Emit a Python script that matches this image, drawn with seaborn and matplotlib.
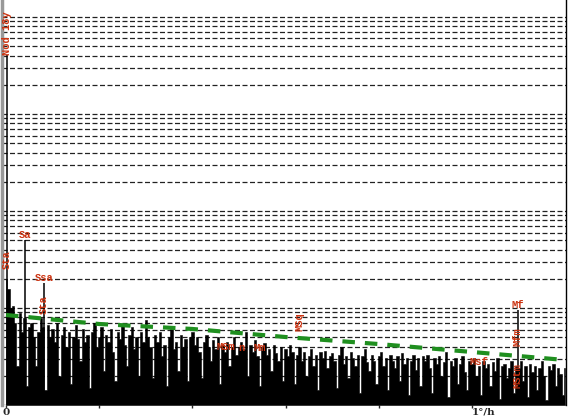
import matplotlib
matplotlib.use("Agg")
import matplotlib.pyplot as plt
import matplotlib.ticker as mticker
import seaborn as sns
import numpy as np

# Espectro de periodo largo (log10 de la potencia), paso de 0.005 grados/hora
espectro_log = [
    -2.70, -2.80, -3.00, -2.98, -3.15, -3.60, -3.05, -3.25, -3.10, -3.80,
    -3.20, -3.15, -3.30, -3.60, -3.25, -3.10, -3.20, -3.85, -3.18, -3.30,
    -3.22, -3.35, -3.15, -3.70, -3.28, -3.20, -3.40, -3.25, -3.78, -3.30,
    -3.18, -3.32, -3.55, -3.22, -3.35, -3.28, -3.82, -3.25, -3.15, -3.40,
    -3.30, -3.20, -3.65, -3.28, -3.35, -3.22, -3.45, -3.75, -3.25, -3.32,
    -3.18, -3.38, -3.60, -3.28, -3.20, -3.42, -3.30, -3.70, -3.25, -3.35,
    -3.12, -3.30, -3.40, -3.72, -3.28, -3.35, -3.25, -3.50, -3.38, -3.80,
    -3.30, -3.22, -3.42, -3.35, -3.65, -3.28, -3.40, -3.32, -3.75, -3.30,
    -3.25, -3.38, -3.30, -3.45, -3.72, -3.35, -3.28, -3.40, -3.55, -3.33,
    -3.42, -3.30, -3.78, -3.38, -3.45, -3.35, -3.60, -3.40, -3.30, -3.48,
    -3.40, -3.35, -3.42, -3.25, -3.70, -3.38, -3.45, -3.33, -3.50, -3.80,
    -3.40, -3.36, -3.48, -3.42, -3.65, -3.38, -3.46, -3.55, -3.40, -3.75,
    -3.42, -3.50, -3.38, -3.45, -3.78, -3.48, -3.40, -3.55, -3.45, -3.70,
    -3.50, -3.42, -3.60, -3.48, -3.85, -3.45, -3.52, -3.44, -3.62, -3.50,
    -3.46, -3.55, -3.82, -3.48, -3.40, -3.58, -3.50, -3.72, -3.45, -3.52,
    -3.60, -3.48, -3.88, -3.50, -3.42, -3.56, -3.65, -3.48, -3.55, -3.78,
    -3.50, -3.45, -3.60, -3.52, -3.85, -3.48, -3.55, -3.62, -3.50, -3.75,
    -3.46, -3.58, -3.52, -3.90, -3.55, -3.48, -3.64, -3.52, -3.80, -3.50,
    -3.55, -3.48, -3.62, -3.88, -3.52, -3.58, -3.50, -3.70, -3.56, -3.45,
    -3.92, -3.55, -3.60, -3.52, -3.78, -3.58, -3.50, -3.66, -3.85, -3.55,
    -3.58, -3.52, -3.70, -3.60, -3.90, -3.55, -3.62, -3.58, -3.80, -3.56,
    -3.65, -3.52, -3.94, -3.60, -3.58, -3.72, -3.62, -3.55, -3.88, -3.60,
    -3.62, -3.55, -3.75, -3.60, -3.92, -3.58, -3.66, -3.60, -3.85, -3.62,
    -3.55, -3.70, -3.95, -3.60, -3.64, -3.58, -3.80, -3.62, -3.68, -3.90,
    -3.62,
]
paso = 0.005

# Componentes con nombre (frecuencia en grados/hora, log10 de la potencia)
comp_nombre = ["Nod 18y", "Sa", "Ssa", "Mf"]
comp_freq = [0.002, 0.0411, 0.0821, 1.098]
comp_log = [-0.39, -2.30, -2.74, -3.02]

# Nivel de confianza (linea verde)
conf_freq = [0.0, 0.2, 0.4, 0.6, 0.8, 1.0, 1.2]
conf_nivel = [8.47e-4, 6.84e-4, 6.08e-4, 5.02e-4, 4.25e-4, 3.52e-4, 2.91e-4]

rojo = "#cc3311"
fondo = 1e-4

sns.set_style("white")
plt.rcParams["font.family"] = ["DejaVu Serif"]

fig = plt.figure(figsize=(5.7, 4.2), dpi=100)
ax = fig.add_axes([2 / 570, 15 / 420, 564 / 570, 405 / 420])

frecuencias = np.arange(len(espectro_log)) * paso
potencia = 10 ** np.array(espectro_log)
ax.fill_between(frecuencias, fondo, potencia, step="mid", color="black", lw=0.4, zorder=3)

ax.vlines(comp_freq, fondo, 10 ** np.array(comp_log), color="black", lw=1.1, zorder=3)

sns.lineplot(x=conf_freq, y=conf_nivel, ax=ax, color="#1f8f1f", lw=3,
             linestyle=(0, (3, 2.4)), zorder=4)

ax.set_yscale("log")
ax.set_ylim(fondo, 10 ** 0.175)
ax.set_xlim(-0.0086, 1.202)
ax.yaxis.set_major_locator(mticker.LogLocator(base=10, subs=(1.0,), numticks=20))
ax.yaxis.set_minor_locator(mticker.LogLocator(base=10, subs=np.arange(2, 10), numticks=20))
ax.yaxis.grid(True, which="both", color="#222222", lw=0.9, linestyle=(0, (4, 2)))
ax.set_axisbelow(True)
ax.tick_params(axis="y", which="both", left=False, labelleft=False)

ax.set_xticks([0, 0.2, 0.4, 0.6, 0.8, 1.0])
ax.set_xticklabels(["0", "", "", "", "", "1°/h"], fontsize=7.5, fontweight="bold")
ax.get_xticklabels()[-1].set_ha("left")
ax.tick_params(axis="x", direction="out", length=2, width=1, pad=0, bottom=True)

for lado in ["top", "bottom"]:
    ax.spines[lado].set_visible(False)
ax.spines["left"].set_color("#999999")
ax.spines["left"].set_linewidth(2.5)
ax.spines["right"].set_color("black")
ax.spines["right"].set_linewidth(1)

fuente = dict(family="Liberation Mono", weight="bold", size=7.5, color=rojo, zorder=5)

# Etiquetas encima de los picos
for nombre, f, v in zip(comp_nombre, comp_freq, comp_log):
    if nombre == "Nod 18y":
        ax.text(f, 10 ** v, nombre, rotation=90, ha="center", va="bottom", **fuente)
    else:
        ax.text(f, 10 ** v, nombre, ha="center", va="bottom", **fuente)

# Otras etiquetas
ax.text(0.002, 10 ** -2.50, "Sta", rotation=90, ha="center", va="center", **fuente)
ax.text(0.0821, 10 ** -2.97, "Sta", rotation=90, ha="center", va="center", **fuente)
ax.text(0.4715, 10 ** -3.40, "MSm", ha="center", va="center", **fuente)
ax.text(0.506, 10 ** -3.41, "n", ha="center", va="center", **fuente)
ax.text(0.5444, 10 ** -3.41, "Mm", ha="center", va="center", **fuente)
ax.text(0.630, 10 ** -3.14, "MSq", rotation=90, ha="center", va="center", **fuente)
ax.text(1.016, 10 ** -3.56, "Msf", ha="center", va="center", **fuente)
ax.text(1.098, 10 ** -3.30, "Mfm", rotation=90, ha="center", va="center", **fuente)
ax.text(1.098, 10 ** -3.70, "MStm", rotation=90, ha="center", va="center", **fuente)

fig.savefig("out.png", dpi=100)
